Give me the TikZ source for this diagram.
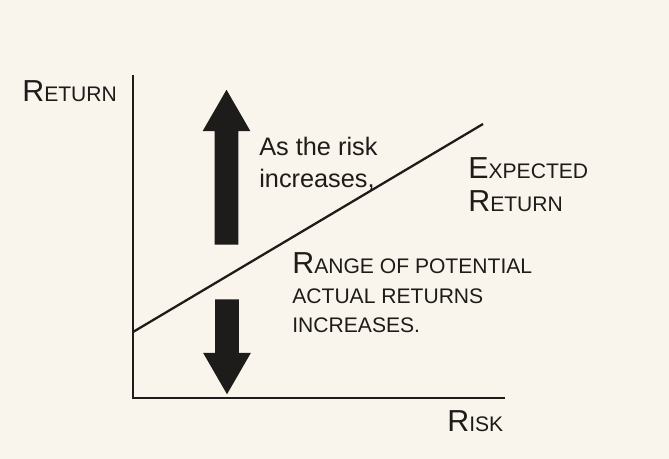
\documentclass[tikz,border=0pt]{standalone}
\usepackage{fontspec}
\setmainfont{Liberation Sans}
\usetikzlibrary{shapes.arrows}
\definecolor{paper}{HTML}{FAF5EC}
\definecolor{ink}{HTML}{1E1C1A}
\newcommand{\fsc}[2]{#1{\large #2}}
\tikzset{
  bigarrow/.style={single arrow, fill=ink, draw=none, inner sep=0.23cm,
    single arrow head extend=0.24cm, single arrow tip angle=60},
  lbl/.style={text=ink, font=\LARGE, align=left, anchor=north west, inner sep=0pt}
}
\begin{document}
\begin{tikzpicture}[x=0.02cm,y=-0.02cm]
\fill[paper] (0,0) rectangle (669,459);
\useasboundingbox (0,0) rectangle (669,459);
% axes
\coordinate (O) at (133,398);
\coordinate (ytop) at (133,75);
\coordinate (xend) at (505,398);
\draw[ink, line width=1.6pt] (ytop) -- (O) -- (xend);
% expected return line
\coordinate (e0) at (133,332);
\coordinate (e1) at (483,124);
\draw[ink, line width=1.3pt] (e0) -- (e1);
% arrows
\node[bigarrow, minimum height=3.1cm, shape border rotate=90] (up) at (226.5,177.5) {};
\node[bigarrow, minimum height=1.9cm, shape border rotate=270] (down) at (227,336.5) {};
% labels
\node[lbl] (ret) at (22,80) {\fsc{R}{ETURN}};
\node[lbl] (risk) at (447,410) {\fsc{R}{ISK}};
\node[lbl, font=\Large] (asrisk) at (259,137) {As the risk\\increases,};
\node[lbl] (exp) at (468,157) {\fsc{E}{XPECTED}\\[-3pt]\fsc{R}{ETURN}};
\node[lbl] (range) at (292,252) {\fsc{R}{ANGE OF POTENTIAL}\\[-5pt]{\large ACTUAL RETURNS}\\[-5pt]{\large INCREASES.}};
\end{tikzpicture}
\end{document}
